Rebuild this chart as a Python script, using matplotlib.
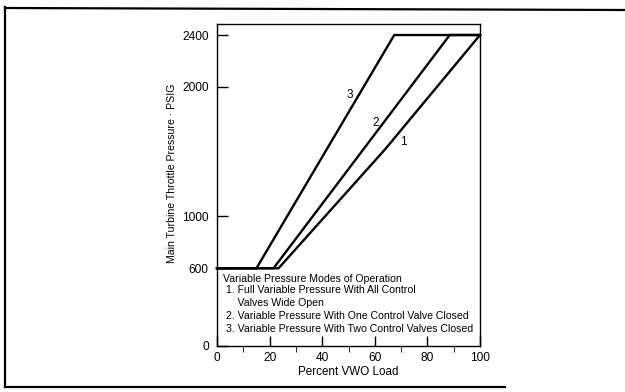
"""Variable pressure modes of operation: throttle pressure vs percent VWO load."""

import matplotlib

matplotlib.use("Agg")
import matplotlib.pyplot as plt
from matplotlib.lines import Line2D

plt.rcParams.update({"font.family": ["Liberation Sans", "DejaVu Sans"]})

# curve data (percent VWO load, PSIG)
load_1 = [0, 23.4, 64, 100]
psig_1 = [600, 600, 1520, 2400]
load_2 = [0, 21.5, 88.5, 100]
psig_2 = [600, 600, 2400, 2400]
load_3 = [0, 15, 67.4, 100]
psig_3 = [600, 600, 2400, 2400]

curve_names = ["1", "2", "3"]
curve_label_at = [(70.9, 1574), (60.2, 1721), (50.6, 1937)]

x_major = [0, 20, 40, 60, 80, 100]
x_minor = [10, 30, 50, 70, 90]
y_ticks = [0, 600, 1000, 2000, 2400]

legend_title = "Variable Pressure Modes of Operation"
legend_lines = [
    "1. Full Variable Pressure With All Control",
    "    Valves Wide Open",
    "2. Variable Pressure With One Control Valve Closed",
    "3. Variable Pressure With Two Control Valves Closed",
]

W, H = 625, 392
fig = plt.figure(figsize=(W / 100, H / 100), dpi=100)
ax = fig.add_axes([217 / W, 1 - 346 / H, 263 / W, 322 / H])

for lx, ly in [(load_1, psig_1), (load_2, psig_2), (load_3, psig_3)]:
    ax.plot(lx, ly, color="black", lw=1.7, solid_joinstyle="miter", clip_on=False)

for name, (x, y) in zip(curve_names, curve_label_at):
    ax.text(x, y, name, fontsize=8.5, ha="center", va="center")

ax.set_xlim(0, 100)
ax.set_ylim(0, 2485)
ax.set_xticks(x_major)
ax.set_xticks(x_minor, minor=True)
ax.set_yticks(y_ticks)
ax.tick_params(axis="both", direction="in", labelsize=8.6, width=1.0)
ax.tick_params(axis="x", which="major", length=7, pad=4)
ax.tick_params(axis="x", which="minor", length=4)
ax.tick_params(axis="y", length=8, pad=6)
for sp in ax.spines.values():
    sp.set_linewidth(1.0)

ax.text(2.3, 520, legend_title, fontsize=7.6, va="center")
ys = [430, 335, 228, 128]
for txt, y in zip(legend_lines, ys):
    ax.text(3.4, y, txt, fontsize=7.6, va="center")

ax.set_xlabel("Percent VWO Load", fontsize=8.4, labelpad=2)
fig.text(172 / W, 1 - 173 / H, "Main Turbine Throttle Pressure · PSIG",
         rotation=90, fontsize=7.6, ha="center", va="center")

# scanned page border
fig.add_artist(Line2D([5 / W, 1], [1 - 8 / H, 1 - 10 / H], color="black", lw=1.6))
fig.add_artist(Line2D([5 / W, 5 / W], [1 - 7 / H, 1 - 387 / H], color="black", lw=1.6))
fig.add_artist(Line2D([5 / W, 505 / W], [1 - 387 / H, 1 - 387 / H], color="black", lw=1.6))

fig.savefig("out.png", dpi=100)
